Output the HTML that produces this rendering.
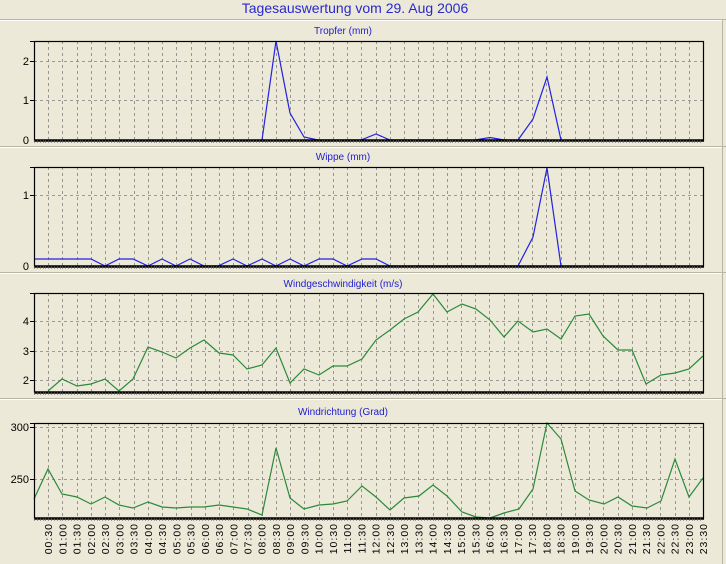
<!DOCTYPE html>
<html><head><meta charset="utf-8"><style>
html,body{margin:0;padding:0;background:#ECE9D8;}
svg{display:block;font-family:"Liberation Sans",sans-serif;}
</style></head><body>
<svg id="s" width="726" height="564" viewBox="0 0 726 564" xmlns="http://www.w3.org/2000/svg">
<rect width="726" height="564" fill="#ECE9D8"/>
<text x="355" y="13" font-size="14" fill="#2828D0" text-anchor="middle">Tagesauswertung vom 29. Aug 2006</text>
<g stroke="#B8B5A6" stroke-width="1">
<line x1="0" y1="19.5" x2="726" y2="19.5"/><line x1="0" y1="146.5" x2="726" y2="146.5"/>
<line x1="0" y1="272.5" x2="726" y2="272.5"/><line x1="0" y1="398.5" x2="726" y2="398.5"/>
<line x1="722.5" y1="20" x2="722.5" y2="564"/>
</g>
<g stroke="#fff" stroke-width="1">
<line x1="0" y1="20.5" x2="722" y2="20.5"/><line x1="0" y1="147.5" x2="722" y2="147.5"/>
<line x1="0" y1="273.5" x2="722" y2="273.5"/><line x1="0" y1="399.5" x2="722" y2="399.5"/>
</g>
<g font-size="10" fill="#2020D0" text-anchor="middle">
<text x="343" y="34">Tropfer (mm)</text>
<text x="343" y="160">Wippe (mm)</text>
<text x="343" y="287">Windgeschwindigkeit (m/s)</text>
<text x="343" y="415">Windrichtung (Grad)</text>
</g>
<g font-size="11" fill="#000" text-anchor="end">
<text x="29" y="65">2</text><text x="29" y="104">1</text><text x="29" y="144">0</text>
<text x="29" y="199">1</text><text x="29" y="270">0</text>
<text x="29" y="325">4</text><text x="29" y="355">3</text><text x="29" y="384">2</text>
<text x="29" y="431">300</text><text x="29" y="483">250</text>
</g>
<g id="grid"></g>
<g fill="none" stroke-width="1.2">
<polyline stroke="#2222E0" points="262,140 276,41 290,113 304,137 318,140 361,140 376,134 390,140 475,140 490,137.5 504,140 518,140 533,119 547,77 561,140"/>
<polyline stroke="#2222E0" points="34,259 91,259 105,266 119,259 133,259 148,266 162,259 176,266 190,259 204,266 218,266 233,259 247,266 262,259 276,266 290,259 304,266 319,259 333,259 347,266 362,259 376,259 390,266 518,266 533,237 547,168 561,266"/>
<polyline stroke="#2A8A3A" points="48,391 62,379 77,386 91,384 105,379 119,391 133,379 148,347 162,352 176,358 190,348 204,340 219,353 233,355 247,369 262,365 276,348 290,383 304,369 319,375 333,366 347,366 362,359 376,340 390,330 404,319 418,312 433,294 447,312 462,304 476,309 490,320 504,337 518,321 533,332 547,329 561,339 575,316 589,314 603,336 618,350 632,350 646,384 661,375 675,373 689,369 703,356"/>
<polyline stroke="#2A8A3A" points="34,499 48,469 62,494 77,497 91,504 105,497 119,505 133,508 148,502 162,507 176,508 190,507 204,507 219,505 233,507 247,509 262,515 276,448 290,498 304,509 319,505 333,504 347,501 362,486 376,497 390,510 404,498 419,496 433,485 447,496 462,512 476,517 490,518 504,513 519,509 533,489 547,423 561,439 575,491 589,500 604,504 618,497 632,506 647,508 661,501 675,459 689,497 703,478"/>
</g>
<g id="frames" fill="none" stroke="#000"></g>
<g id="labels" font-size="10.5" fill="#000"></g>
</svg>
<script>
var ns="http://www.w3.org/2000/svg";
function el(p,t,a,txt){var e=document.createElementNS(ns,t);for(var k in a)e.setAttribute(k,a[k]);if(txt)e.textContent=txt;document.getElementById(p).appendChild(e);return e;}
var L=34,R=703,dx=(R-L)/47;
var panels=[[41,140,[61,100]],[167,266,[195]],[293,392,[321,351,380]],[423,518,[427,479]]];
panels.forEach(function(p){
 for(var k=1;k<47;k++){var x=Math.round(L+k*dx)+0.5;el("grid","line",{x1:x,y1:p[0],x2:x,y2:p[1],stroke:"#808080","stroke-dasharray":"3,3","stroke-width":"0.8"});}
 p[2].forEach(function(y){el("grid","line",{x1:L,y1:y+0.5,x2:R,y2:y+0.5,stroke:"#808080","stroke-dasharray":"3,3","stroke-width":"0.8"});});
 el("frames","rect",{x:L+0.5,y:p[0]+0.5,width:R-L,height:p[1]-p[0],"stroke-width":"1.2"});
 el("frames","line",{x1:L,y1:p[1]+0.5,x2:R+1,y2:p[1]+0.5,"stroke-width":"2.5"});
 el("frames","line",{x1:L-4,y1:p[0]+0.5,x2:L,y2:p[0]+0.5,"stroke-width":"1"});
 p[2].forEach(function(y){el("frames","line",{x1:L-4,y1:y+0.5,x2:L,y2:y+0.5,"stroke-width":"1"});});
 for(var x=L;x<=R;x+=dx/5){el("frames","line",{x1:Math.round(x)+0.5,y1:p[1],x2:Math.round(x)+0.5,y2:p[1]+3,"stroke-width":"0.6",stroke:"#666"});}
});
for(var k=1;k<=47;k++){
 var h=Math.floor(k/2),m=k%2?"30":"00";
 var s=(h<10?"0":"")+h+":"+m;
 var x=L+k*dx+4;
 el("labels","text",{x:0,y:0,"text-anchor":"end","letter-spacing":"1",transform:"translate("+x.toFixed(1)+",523) rotate(-90)"},s);
}
</script>
</body></html>
